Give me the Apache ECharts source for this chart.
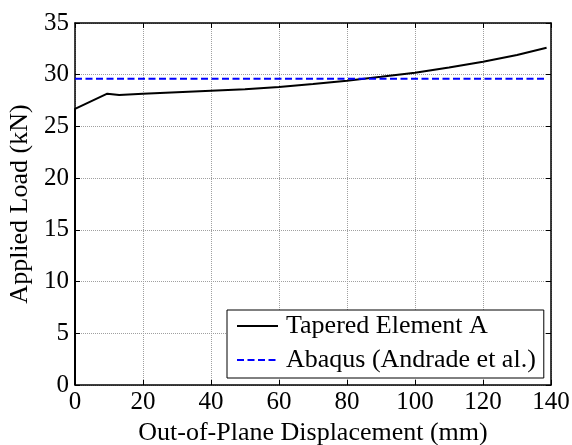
<!DOCTYPE html>
<html>
<head>
<meta charset="utf-8">
<script src="https://cdn.jsdelivr.net/npm/echarts@6/dist/echarts.min.js"></script>
<style>
  html, body { margin: 0; padding: 0; background: #fff; }
  #chart { width: 572px; height: 445px; }
</style>
</head>
<body>
<div id="chart"></div>
<script>
// Out-of-plane displacement (mm) and applied load (kN) for the tapered element
const taperedDisp = [0, 0, 9.5, 13, 20, 30, 40, 50, 60, 70, 80, 90, 100, 110, 120, 130, 138.7];
const taperedLoad = [0, 26.7, 28.17, 28.03, 28.15, 28.3, 28.45, 28.6, 28.82, 29.1, 29.42, 29.8, 30.2, 30.7, 31.25, 31.9, 32.6];

// Reference Abaqus solution (constant load)
const abaqusDisp = [0, 138.4];
const abaqusLoad = [29.6, 29.6];

const seriesNames = ['Tapered Element A', 'Abaqus (Andrade et al.)'];
const xTitle = 'Out-of-Plane Displacement (mm)';
const yTitle = 'Applied Load (kN)';

const font = 'Liberation Serif, Times New Roman, serif';
const zip = (xs, ys) => xs.map((x, i) => [x, ys[i]]);

const chart = echarts.init(document.getElementById('chart'), null, { renderer: 'canvas' });

const grid = { left: 75, right: 21, top: 23, bottom: 60, containLabel: false, outerBoundsMode: 'none' };
const gridLine = { show: true, lineStyle: { color: '#a0a0a0', type: 'dotted', width: 1 } };
const tickFont = { fontFamily: font, fontSize: 25, color: '#000' };
const titleFont = { fontFamily: font, fontSize: 26, color: '#000' };
const boxLine = { color: '#000', width: 1.5 };
const tick = { show: true, inside: true, length: 5, lineStyle: { color: '#000' } };

chart.setOption({
  animation: false,
  backgroundColor: '#fff',
  grid: grid,
  xAxis: [{
    type: 'value', min: 0, max: 140, interval: 20,
    name: xTitle, nameLocation: 'middle', nameGap: 29,
    nameTextStyle: titleFont,
    axisLine: { onZero: false, lineStyle: boxLine },
    axisTick: tick,
    axisLabel: Object.assign({ margin: 5 }, tickFont),
    splitLine: gridLine
  }, {
    type: 'value', min: 0, max: 140, interval: 20, position: 'top',
    axisLine: { onZero: false, lineStyle: boxLine },
    axisTick: tick,
    axisLabel: { show: false }, splitLine: { show: false }
  }],
  yAxis: [{
    type: 'value', min: 0, max: 35, interval: 5,
    name: yTitle, nameLocation: 'middle', nameGap: 34,
    nameTextStyle: titleFont,
    axisLine: { show: true, onZero: false, lineStyle: boxLine },
    axisTick: tick,
    axisLabel: Object.assign({ margin: 6 }, tickFont),
    splitLine: gridLine
  }, {
    type: 'value', min: 0, max: 35, interval: 5, position: 'right',
    axisLine: { show: true, onZero: false, lineStyle: boxLine },
    axisTick: tick,
    axisLabel: { show: false }, splitLine: { show: false }
  }],
  legend: {
    orient: 'vertical',
    left: 227, top: 310,
    padding: [3, 8, 5, 9],
    itemGap: 8,
    itemWidth: 41, itemHeight: 14,
    backgroundColor: '#fff',
    borderColor: '#000', borderWidth: 1,
    itemStyle: { opacity: 0 },
    textStyle: { fontFamily: font, fontSize: 26, color: '#000', padding: [0, 0, 0, 3] },
    data: seriesNames
  },
  series: [{
    name: seriesNames[0], type: 'line', showSymbol: false, symbol: 'none',
    data: zip(taperedDisp, taperedLoad),
    lineStyle: { color: '#000', width: 2 }, itemStyle: { color: '#000' },
    z: 3
  }, {
    name: seriesNames[1], type: 'line', showSymbol: false, symbol: 'none',
    data: zip(abaqusDisp, abaqusLoad),
    lineStyle: { color: '#0000ff', width: 2, type: [7, 3.5] }, itemStyle: { color: '#0000ff' },
    z: 4
  }]
});
</script>
</body>
</html>
